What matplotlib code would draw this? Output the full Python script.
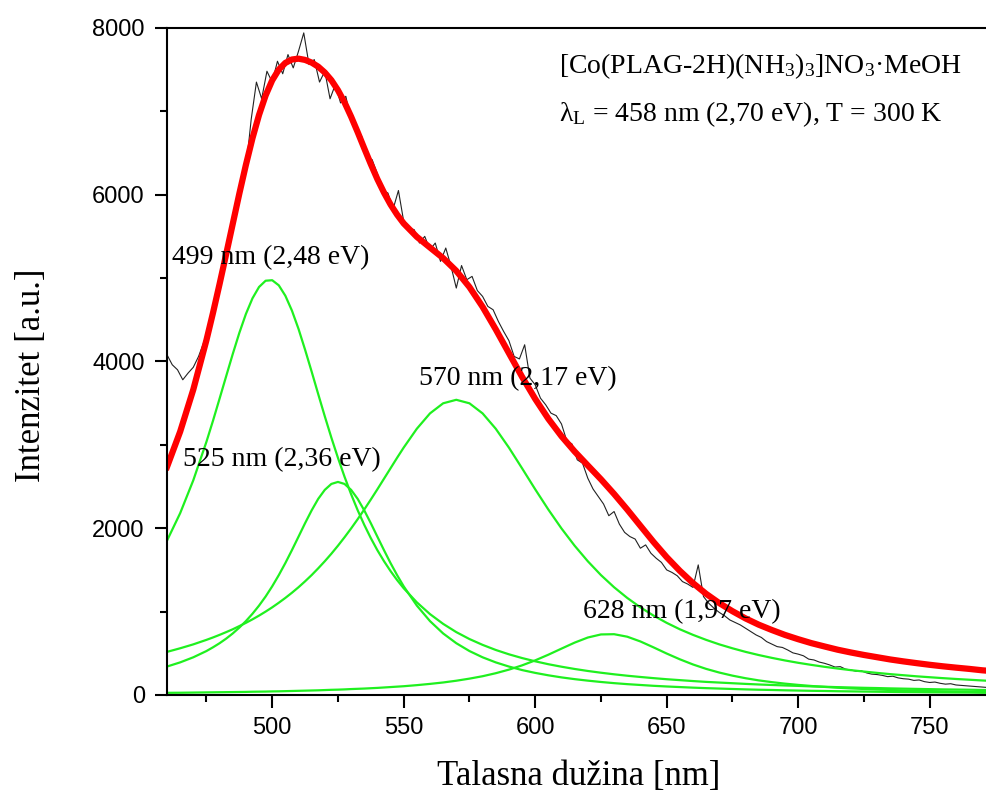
import numpy as np
import matplotlib
matplotlib.use('Agg')
import matplotlib.pyplot as plt
from matplotlib.ticker import MultipleLocator

plt.rcParams['mathtext.fontset'] = 'custom'
plt.rcParams['mathtext.rm'] = 'Liberation Serif'
plt.rcParams['mathtext.it'] = 'Liberation Serif:italic'

# Talasne duzine za fit (gusce oko vrhova 499 i 525 nm)
lam_fit = np.concatenate([np.arange(460, 475, 5),
                          np.arange(475, 550, 2.5),
                          np.arange(550, 776, 5)])

# Komponente fita (procitano sa grafika)
pik_499 = [1851, 2180, 2575,
           3037, 3290, 3555, 3823, 4089, 4342, 4569, 4757, 4893, 4968,
           4974, 4913, 4788, 4610, 4391, 4141, 3878, 3608, 3342, 3086,
           2844, 2618, 2408, 2216, 2041, 1881, 1736, 1605, 1486, 1378,
           1280, 1111, 970, 853, 754, 671, 601, 540, 488, 443, 404, 369,
           339, 312, 288, 267, 248, 231, 216, 202, 189, 178,
           167, 157, 149, 141, 133, 126, 120, 114, 109, 103,
           99, 94, 90, 86, 83, 79, 76, 73, 70, 67,
           65, 63, 60, 58]
pik_525 = [341, 391, 452,
           527, 572, 621, 676, 738, 808, 886, 974, 1072, 1181,
           1303, 1437, 1582, 1737, 1898, 2060, 2214, 2352, 2460, 2531,
           2555, 2531, 2460, 2352, 2214, 2060, 1898, 1737, 1582, 1437,
           1303, 1072, 886, 738, 621, 527, 452, 391, 341, 299, 265, 236,
           211, 190, 172, 156, 142, 130, 120, 110, 102, 95,
           88, 82, 77, 72, 67, 63, 60, 56, 53, 50,
           48, 45, 43, 41, 39, 37, 35, 34, 32, 31,
           30, 29, 27, 26]
pik_570 = [517, 560, 607,
           661, 690, 721, 754, 788, 826, 865, 907, 952, 1000,
           1051, 1106, 1164, 1226, 1292, 1363, 1438, 1519, 1604, 1694,
           1790, 1891, 1997, 2108, 2224, 2344, 2467, 2593, 2719, 2845,
           2967, 3193, 3377, 3498, 3540, 3498, 3377, 3193, 2967, 2719, 2467, 2224,
           1997, 1790, 1604, 1438, 1292, 1164, 1051, 952, 865, 788,
           721, 661, 607, 560, 517, 479, 445, 414, 386, 361,
           338, 317, 298, 281, 265, 250, 237, 224, 213, 202,
           192, 183, 174, 166]
pik_628 = [26, 27, 29,
           31, 32, 33, 34, 35, 36, 37, 39, 40, 41,
           43, 44, 46, 48, 50, 52, 54, 56, 59, 62,
           64, 67, 71, 74, 77, 81, 85, 90, 95, 100,
           105, 118, 133, 150, 171, 196, 225, 261, 304, 355, 415, 483,
           556, 628, 689, 726, 729, 699, 642, 571, 497, 428,
           366, 313, 269, 232, 201, 175, 154, 136, 121, 108,
           97, 87, 79, 72, 66, 60, 55, 51, 47, 44,
           41, 38, 35, 33]
ukupni_fit = [2735, 3158, 3663,
              4256, 4584, 4930, 5287, 5650, 6012, 6357, 6677, 6957, 7190,
              7371, 7500, 7580, 7621, 7631, 7616, 7584, 7535, 7465, 7373,
              7253, 7107, 6936, 6750, 6556, 6366, 6186, 6025, 5882, 5760,
              5655, 5494, 5366, 5239, 5086, 4892, 4655, 4385, 4100, 3816, 3551, 3312,
              3103, 2920, 2753, 2587, 2411, 2224, 2029, 1835, 1653, 1489,
              1342, 1213, 1102, 1005, 918, 843, 779, 720, 669, 622,
              582, 543, 510, 480, 453, 426, 403, 382, 362, 344,
              328, 313, 296, 283]

# Izmereni spektar (svakih 2 nm)
lam_data = np.arange(460, 773, 2)
izmereno = [4080, 3960, 3900, 3780, 3860, 3930, 4060, 4230, 4420, 4620,
            4980, 5150, 5560, 5720, 6150, 6300, 6900, 7350, 7150, 7480,
            7350, 7600, 7450, 7680, 7520, 7720, 7940, 7560, 7620, 7350,
            7480, 7150, 7320, 7100, 7180, 6880, 6800, 6700, 6450, 6420,
            6250, 6050, 6020, 5830, 6050, 5680, 5600, 5580, 5420, 5500,
            5340, 5420, 5200, 5360, 5140, 4880, 5150, 4980, 5020, 4850,
            4780, 4660, 4620, 4480, 4360, 4250, 4060, 4030, 4200, 3800,
            3720, 3560, 3480, 3380, 3350, 3250, 3050, 3010, 2820, 2780,
            2600, 2470, 2380, 2290, 2150, 2200, 2050, 1950, 1900, 1870,
            1760, 1800, 1700, 1640, 1590, 1500, 1470, 1430, 1360, 1330,
            1290, 1560, 1180, 1100, 1040, 990, 950, 900, 870, 840,
            800, 760, 720, 690, 640, 610, 580, 570, 540, 505,
            490, 470, 430, 420, 395, 380, 360, 335, 340, 310,
            300, 285, 290, 265, 250, 245, 235, 220, 225, 205,
            195, 190, 175, 180, 160, 150, 155, 140, 130, 135,
            120, 115, 110, 105, 100, 95, 90]

oznake = ['499 nm (2,48 eV)', '525 nm (2,36 eV)', '570 nm (2,17 eV)', '628 nm (1,97 eV)']
oznake_x = [462, 466, 556, 618]
oznake_y = [5240, 2820, 3800, 1000]

fig = plt.figure(figsize=(9.87, 7.97), dpi=100)
ax = fig.add_axes([0.1692, 0.128, 0.834, 0.837])

zelena = '#1ff01f'
ax.plot(lam_data, izmereno, color='#222222', linewidth=0.8)
for pik in [pik_499, pik_525, pik_570, pik_628]:
    ax.plot(lam_fit, pik, color=zelena, linewidth=1.6)
ax.plot(lam_fit, ukupni_fit, color='#ff0000', linewidth=4.5)

for tekst, x, y in zip(oznake, oznake_x, oznake_y):
    ax.text(x, y, tekst, fontsize=20, family='Liberation Serif', va='center', ha='left')

ax.text(609, 7540, r'[Co(PLAG-2H)(NH$_3$)$_3$]NO$_3$·MeOH', fontsize=20,
        family='Liberation Serif', va='center', ha='left')
ax.text(609, 6960, r'λ$_\mathrm{L}$ = 458 nm (2,70 eV), T = 300 K', fontsize=20,
        family='Liberation Serif', va='center', ha='left')

ax.set_xlim(460, 773)
ax.set_ylim(0, 8000)
ax.xaxis.set_major_locator(MultipleLocator(50))
ax.xaxis.set_minor_locator(MultipleLocator(25))
ax.yaxis.set_major_locator(MultipleLocator(2000))
ax.yaxis.set_minor_locator(MultipleLocator(1000))
ax.tick_params(which='major', direction='out', length=9, width=1.5, labelsize=17, pad=7)
ax.tick_params(which='minor', direction='out', length=5, width=1.5)
for lbl in ax.get_xticklabels() + ax.get_yticklabels():
    lbl.set_family('Liberation Sans')
for sp in ax.spines.values():
    sp.set_linewidth(1.5)

ax.set_xlabel('Talasna dužina [nm]', fontsize=25, family='Liberation Serif', labelpad=15)
ax.set_ylabel('Intenzitet [a.u.]', fontsize=25, family='Liberation Serif')
ax.yaxis.set_label_coords(-0.145, 0.48)

fig.savefig('out.png', dpi=100)
